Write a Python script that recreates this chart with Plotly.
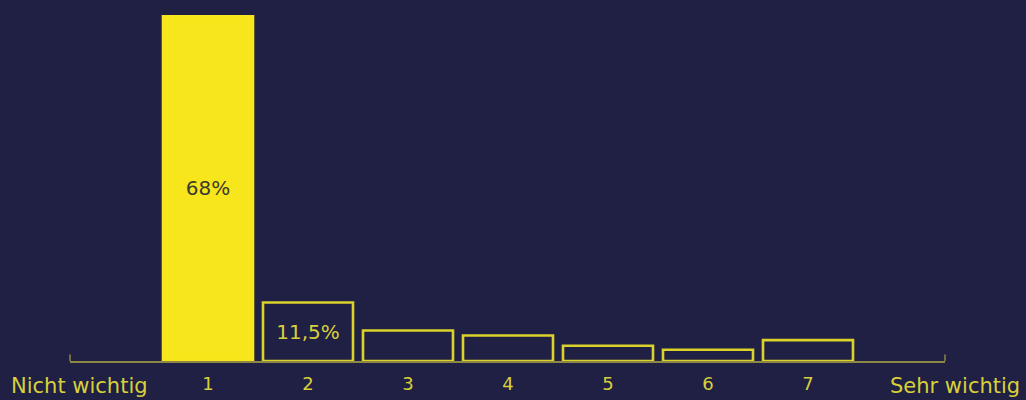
import plotly.graph_objects as go

categories = [1, 2, 3, 4, 5, 6, 7]
tick_labels = ["1", "2", "3", "4", "5", "6", "7"]
values = [68, 11.5, 6, 5, 3, 2.2, 4.1]
bar_text = ["68%", "11,5%", "", "", "", "", ""]
left_label = "Nicht wichtig"
right_label = "Sehr wichtig"

BG = "#1f2043"
YEL = "#f7e61b"
OUT = "#dcd22c"
TXT = "#d8d03a"
AXIS = "#8c8745"
FONT = "DejaVu Sans"

fill_colors = [YEL] + [BG] * (len(values) - 1)
line_colors = [YEL] + [OUT] * (len(values) - 1)
text_colors = ["#3b3a30"] + [TXT] * (len(values) - 1)

fig = go.Figure(go.Bar(
    x=categories, y=values, width=0.9,
    marker=dict(color=fill_colors, line=dict(color=line_colors, width=2.6)),
    text=bar_text, textposition="inside", insidetextanchor="middle",
    textfont=dict(color=text_colors, size=20, family=FONT),
    textangle=0, cliponaxis=False, hoverinfo="skip",
))

fig.update_layout(
    width=1026, height=400,
    paper_bgcolor=BG, plot_bgcolor=BG,
    margin=dict(l=70, r=81, t=15, b=39),
    showlegend=False,
    font=dict(family=FONT, color=TXT, size=17),
    xaxis=dict(range=[-0.38, 8.37], showgrid=False, zeroline=False,
               showline=True, linecolor=AXIS, linewidth=1.5,
               tickvals=categories, ticktext=tick_labels, ticks="",
               ticklabelstandoff=6, automargin=False,
               tickfont=dict(size=18, color=TXT, family=FONT)),
    yaxis=dict(range=[0, 68], visible=False, showgrid=False, zeroline=False,
               automargin=False),
    shapes=[
        dict(type="line", xref="x domain", yref="y", x0=0, x1=0, y0=0, y1=1.3,
             line=dict(color=AXIS, width=1.5)),
        dict(type="line", xref="x domain", yref="y", x0=1, x1=1, y0=0, y1=1.3,
             line=dict(color=AXIS, width=1.5)),
    ],
    annotations=[
        dict(text=left_label, xref="paper", yref="paper", x=0, y=0,
             xanchor="left", yanchor="middle", xshift=-61, yshift=-25,
             showarrow=False, font=dict(size=21, color=TXT, family=FONT)),
        dict(text=right_label, xref="paper", yref="paper", x=1.0, y=0,
             xanchor="right", yanchor="middle", xshift=77, yshift=-25,
             showarrow=False, font=dict(size=21, color=TXT, family=FONT)),
    ],
)

fig.write_html(
    "out.html",
    config={"displayModeBar": False},
    post_script="document.body.style.margin='0';document.body.style.background='" + BG + "';",
)
